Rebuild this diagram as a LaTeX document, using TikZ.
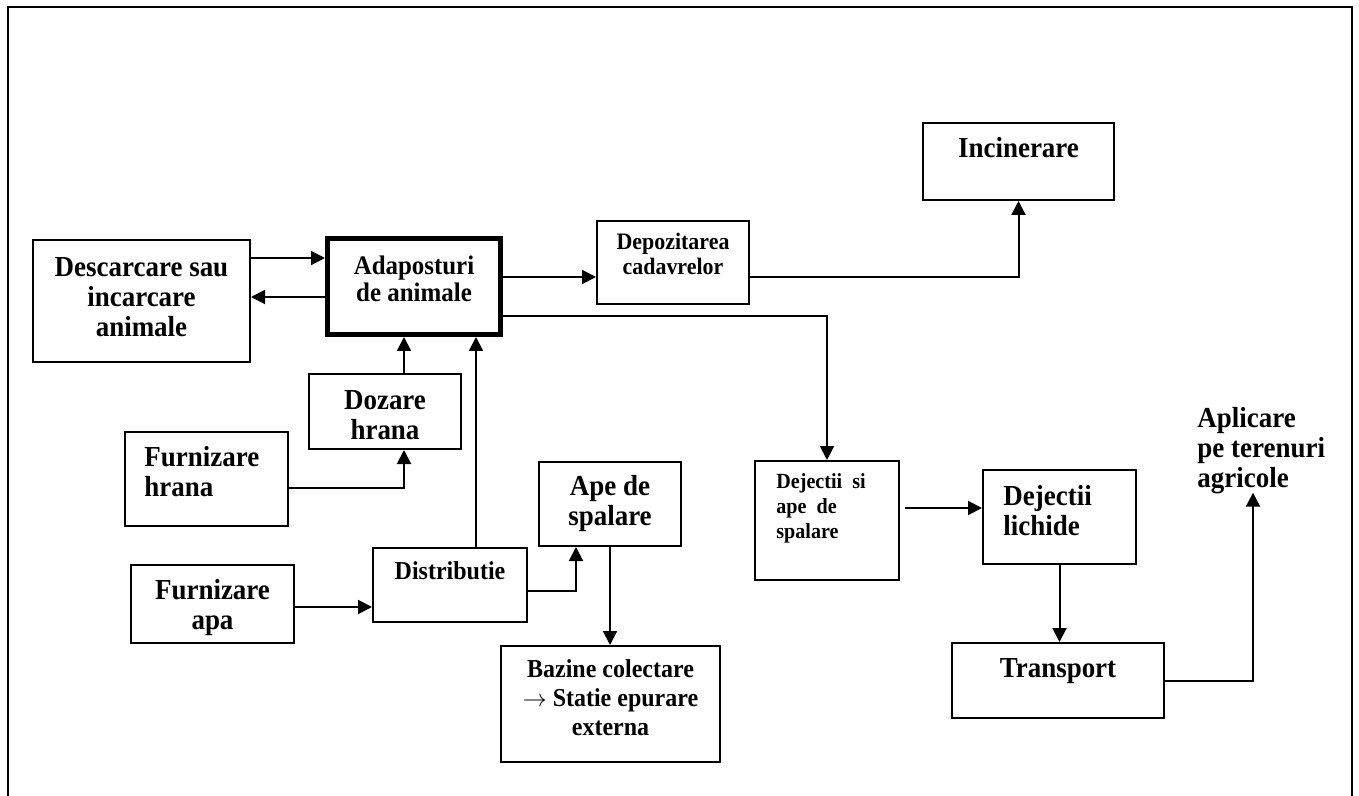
\documentclass[tikz,border=0pt]{standalone}
\usepackage{fontspec}
\setmainfont[FakeStretch=0.93]{Liberation Serif}
\usetikzlibrary{arrows.meta}

\begin{document}
\begin{tikzpicture}[
                x=0.5pt, y=-0.5pt,
                box/.style={draw, line width=1pt, inner sep=0pt},
                arr/.style={line width=1pt, -{Triangle[length=7pt,width=7pt]}},
                big/.style={font=\fontsize{14.5}{15}\selectfont\bfseries, align=center, inner sep=0pt},
                mid/.style={font=\fontsize{13.4}{13.5}\selectfont\bfseries, align=center, inner sep=0pt},
                small/.style={font=\fontsize{11.8}{12.5}\selectfont\bfseries, align=center, inner sep=0pt}
            ]
                \useasboundingbox (0,0) rectangle (1359,796);
                \draw[line width=1pt] (8,810) -- (8,7) -- (1352,7) -- (1352,810);

                % boxes
                \node[box, minimum width=108.5pt, minimum height=61pt] (desc) at (141.5,301) {};
                \node[box, line width=2.5pt, minimum width=86.5pt, minimum height=48pt] (adap) at (414,286.5) {};
                \node[box, minimum width=76pt, minimum height=41.5pt] (depoz) at (673,262.5) {};
                \node[box, minimum width=95.5pt, minimum height=38.5pt] (incin) at (1018.5,161.5) {};
                \node[box, minimum width=76pt, minimum height=37.5pt] (dozare) at (385,411.5) {};
                \node[box, minimum width=81.5pt, minimum height=47pt] (furnH) at (206.5,479) {};
                \node[box, minimum width=81.5pt, minimum height=39pt] (furnA) at (212.5,604) {};
                \node[box, minimum width=77pt, minimum height=37pt] (distr) at (450,585) {};
                \node[box, minimum width=71pt, minimum height=42pt] (ape) at (610,504) {};
                \node[box, minimum width=109.5pt, minimum height=58pt] (bazine) at (610.5,704) {};
                \node[box, minimum width=72pt, minimum height=59.5pt] (dejSi) at (827,520.5) {};
                \node[box, minimum width=76.5pt, minimum height=47pt] (lichide) at (1059.5,517) {};
                \node[box, minimum width=106pt, minimum height=37.5pt] (transport) at (1058,680.5) {};

                % texts
                \node[big] (descT) at (141.5,297) {Descarcare sau\\incarcare\\animale};
                \node[mid] (adapT) at (414,279) {Adaposturi\\de animale};
                \node[small] (depozT) at (673,254) {Depozitarea\\cadavrelor};
                \node[big] (incinT) at (1018.5,148) {Incinerare};
                \node[big] (dozareT) at (385,415) {Dozare\\hrana};
                \node[big, align=left, anchor=west] (furnHT) at (144,472) {Furnizare\\hrana};
                \node[big] (furnAT) at (212.5,608) {Furnizare\\apa};
                \node[font=\fontsize{12.9}{14}\selectfont\bfseries, inner sep=0pt] (distrT) at (450,571) {Distributie};
                \node[big] (apeT) at (610,504) {Ape de\\spalare};
                \node[font=\fontsize{12.9}{14.5}\selectfont\bfseries, align=center, inner sep=0pt] (bazineT) at (610.5,698) {Bazine colectare\\$\rightarrow$ Statie epurare\\externa};
                \node[font=\fontsize{10.8}{12.5}\selectfont\bfseries, align=left, inner sep=0pt, anchor=west] (dejSiT) at (776,508) {Dejectii\ \ si\\ape\ \ de\\spalare};
                \node[big, align=left, anchor=west] (lichideT) at (1003,511) {Dejectii\\lichide};
                \node[big] (transportT) at (1058,671) {Transport};
                \node[big, align=left, anchor=west] (apl) at (1197,451) {Aplicare\\pe terenuri\\agricole};

                % connectors
                \draw[arr] ([yshift=21.5pt]desc.east) -- ([yshift=21.5pt]desc.east -| adap.west);
                \draw[arr] ([yshift=-5.25pt]adap.west) -- ([yshift=-5.25pt]adap.west -| desc.east);
                \draw[arr] ([yshift=4.75pt]adap.east) -- ([yshift=4.75pt]adap.east -| depoz.west);
                \draw[arr] ([yshift=-14.75pt]adap.east) -| (dejSi.north);
                \draw[arr] ([yshift=-7.25pt]depoz.east) -| (incin.south);
                \draw[arr] ([xshift=9.5pt]dozare.north) -- ([xshift=9.5pt]dozare.north |- adap.south);
                \draw[arr] ([yshift=-4.5pt]furnH.east) -| ([xshift=9.5pt]dozare.south);
                \draw[arr] ([xshift=13pt]distr.north) -- ([xshift=13pt]distr.north |- adap.south);
                \draw[arr] ([yshift=-1.5pt]furnA.east) -- ([yshift=-1.5pt]furnA.east -| distr.west);
                \draw[arr] ([yshift=-3pt]distr.east) -| ([xshift=-17pt]ape.south);
                \draw[arr] (ape.south) -- (ape.south |- bazine.north);
                \draw[arr] ([xshift=2.5pt,yshift=6.25pt]dejSi.east) -- ([yshift=6.25pt]dejSi.east -| lichide.west);
                \draw[arr] (lichide.south) -- (lichide.south |- transport.north);
                \draw[arr] (transport.east) -| ([xshift=28pt,yshift=1pt]apl.south west);
            \end{tikzpicture}
\end{document}
